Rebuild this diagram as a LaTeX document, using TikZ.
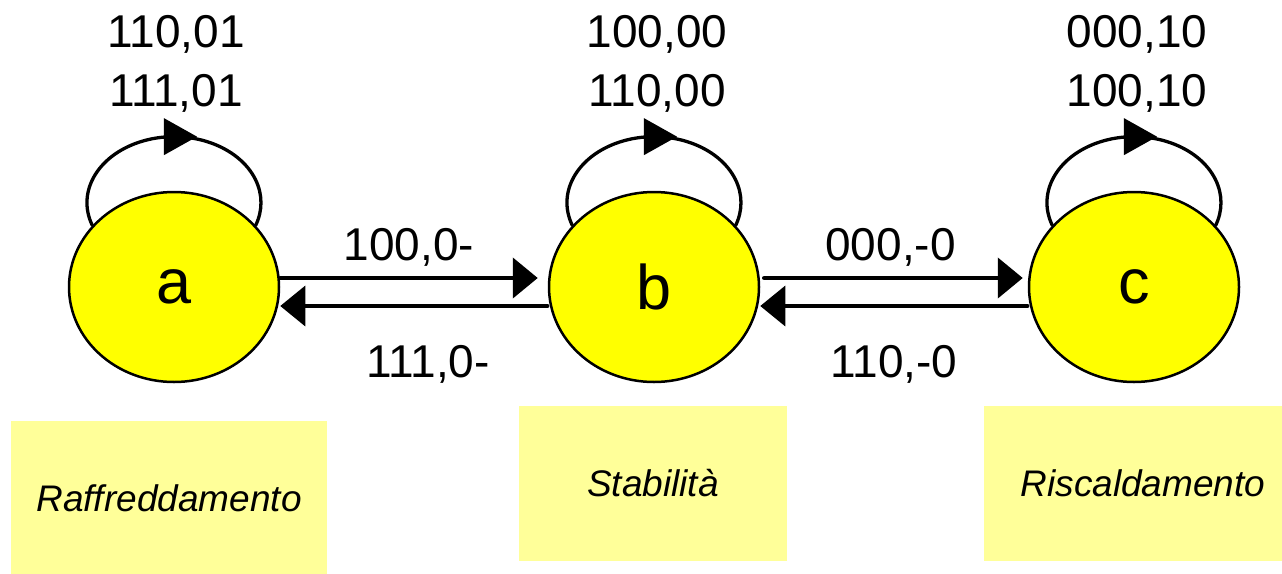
\documentclass[tikz,border=0pt]{standalone}
\usepackage{fontspec}
\setmainfont{Liberation Sans}
\usetikzlibrary{shapes.geometric,arrows.meta,decorations.markings}

\definecolor{stateyellow}{HTML}{FFFF00}
\definecolor{noteyellow}{HTML}{FFFF99}

\tikzset{
  state/.style={ellipse, draw, line width=2.5pt, fill=stateyellow,
    minimum width=210pt, minimum height=190pt, inner sep=0pt,
    font=\fontsize{63}{63}\selectfont},
  notebox/.style={rectangle, fill=noteyellow, minimum height=155pt,
    inner sep=0pt, font=\fontsize{37}{37}\selectfont\itshape},
  elbl/.style={anchor=base, inner sep=0pt, font=\fontsize{46}{46}\selectfont},
  looplbl/.style={anchor=base, inner sep=0pt, align=center,
    font=\fontsize{46}{59}\selectfont},
  fwd/.style={line width=4.5pt, -{Triangle[length=25pt,width=40pt]}},
  bwd/.style={line width=3.3pt, -{Triangle[length=25pt,width=40pt]}},
  % 箭头画在弧顶，向右偏一点
  selfloop/.style={line width=3.3pt, postaction={decorate},
    decoration={markings, mark=at position 0.5 with
      {\fill (-10pt,18.5pt) -- (23pt,0pt) -- (-10pt,-18.5pt) -- cycle;}}},
}

\begin{document}
\begin{tikzpicture}[x=1pt, y=-1pt, line cap=round, line join=round]

  %% ════ 状态（椭圆）════
  \node[state] (a) at (174,287) {a};
  \node[state] (b) at (654,287) {b};
  \node[state] (c) at (1134,287) {c};

  %% ════ 自环（从节点边界出发的椭圆弧）════
  \draw[selfloop] (a.143) arc[start angle=159.8, end angle=380.2, x radius=87, y radius=66];
  \draw[selfloop] (b.143) arc[start angle=159.8, end angle=380.2, x radius=87, y radius=66];
  \draw[selfloop] (c.143) arc[start angle=159.8, end angle=380.2, x radius=87, y radius=66];

  %% ════ 状态之间的转移 ════
  \draw[fwd] ([yshift=9pt]a.east) -- node[elbl, yshift=18pt] (lab) {100,0-} ([yshift=9pt,xshift=-10pt]b.west);
  \draw[bwd] ([yshift=-19pt]b.west) -- node[elbl, xshift=14pt, yshift=-71pt] (lba) {111,0-} ([yshift=-19pt]a.east);
  \draw[fwd] ([yshift=9pt,xshift=4pt]b.east) -- node[elbl, xshift=-3pt, yshift=18pt] (lbc) {000,-0} ([yshift=9pt,xshift=-5pt]c.west);
  \draw[bwd] ([yshift=-19pt]c.west) -- node[elbl, yshift=-71pt] (lcb) {110,-0} ([yshift=-19pt]b.east);

  %% ════ 自环标签（base = 最后一行基线）════
  \node[looplbl] (la) at (176,106) {110,01\\111,01};
  \node[looplbl] (lb) at (657,106) {100,00\\110,00};
  \node[looplbl] (lc) at (1137,106) {000,10\\100,10};

  %% ════ 说明框 ════
  \node[notebox, minimum width=316pt] (na) at (169,498.5) {Raffreddamento};
  \node[notebox, minimum width=268pt] (nb) at (653,483.5) {Stabilità};
  \node[notebox, minimum width=318pt] (nc) at (1143,483.5) {Riscaldamento};

  % 钉死画布
  \pgfresetboundingbox
  \path[use as bounding box] (0,0) rectangle (1282,573);
\end{tikzpicture}
\end{document}
